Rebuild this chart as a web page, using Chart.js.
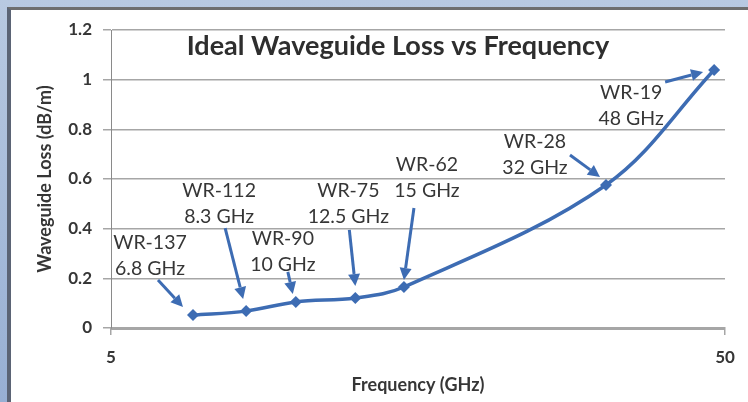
<!DOCTYPE html>
<html><head><meta charset="utf-8">
<script src="https://cdn.jsdelivr.net/npm/chart.js@4"></script>
<style>
html,body{margin:0;padding:0;width:748px;height:402px;overflow:hidden;background:linear-gradient(180deg,#b8c9e1 0%,#97afd3 100%);}
#frame{position:absolute;left:7px;top:7px;width:741px;height:395px;background:#fff;border-left:4px solid #5b6475;border-top:3px solid #6e6e6e;box-sizing:border-box;}
#wrap{position:absolute;left:0;top:0;width:748px;height:402px;}
</style></head><body>
<div id="frame"></div>
<div id="wrap"><canvas id="c" width="748" height="402"></canvas></div>
<script>
// ---- data ----
const frequencies = [6.8, 8.3, 10, 12.5, 15, 32, 48];
const lossValues = [0.052, 0.068, 0.105, 0.121, 0.165, 0.576, 1.039];
const waveguideNames = ['WR-137', 'WR-112', 'WR-90', 'WR-75', 'WR-62', 'WR-28', 'WR-19'];
const frequencyLabels = ['6.8 GHz', '8.3 GHz', '10 GHz', '12.5 GHz', '15 GHz', '32 GHz', '48 GHz'];
const xTickValues = [5, 50];
const yTickValues = [0, 0.2, 0.4, 0.6, 0.8, 1, 1.2];
const chartTitle = 'Ideal Waveguide Loss vs Frequency';
const xAxisTitle = 'Frequency (GHz)';
const yAxisTitle = 'Waveguide Loss (dB/m)';

// ---- styling / layout (offsets relative to each data point, in px) ----
const BLUE = '#3d6cb3';
const TEXT = '#363636';
const FONT = 'Lato';
const annotationLayout = [
  {tx: -43, ty: -66, ax1: -35, ay1: -35, ax2: -10, ay2: -8},
  {tx: -27, ty: -114, ax1: -21, ay1: -83, ax2: -3, ay2: -12},
  {tx: -13, ty: -57, ax1: -8, ay1: -30, ax2: -3, ay2: -8},
  {tx: -7, ty: -101, ax1: -6, ay1: -68, ax2: 0, ay2: -12},
  {tx: 23, ty: -116, ax1: 10, ay1: -79, ax2: 0, ay2: -7},
  {tx: -71, ty: -37, ax1: -36, ay1: -30, ax2: -6, ay2: -8},
  {tx: -83, ty: 29, ax1: -49, ay1: 12, ax2: -11, ay2: 2}
];

function arrow(ctx, x1, y1, x2, y2) {
  const ang = Math.atan2(y2 - y1, x2 - x1);
  const hl = 12, hw = 6;
  const bx = x2 - hl * Math.cos(ang), by = y2 - hl * Math.sin(ang);
  ctx.beginPath();
  ctx.moveTo(x1, y1);
  ctx.lineTo(bx, by);
  ctx.stroke();
  ctx.beginPath();
  ctx.moveTo(x2, y2);
  ctx.lineTo(bx + hw * Math.sin(ang), by - hw * Math.cos(ang));
  ctx.lineTo(bx - hw * Math.sin(ang), by + hw * Math.cos(ang));
  ctx.closePath();
  ctx.fill();
}

const annotationPlugin = {
  id: 'annotations',
  afterDatasetsDraw(chart) {
    const ctx = chart.ctx;
    const meta = chart.getDatasetMeta(0);
    const area = chart.chartArea;
    ctx.save();
    // title inside plot area
    ctx.fillStyle = '#2e2e2e';
    ctx.font = 'bold 27px ' + FONT;
    ctx.textAlign = 'center';
    ctx.textBaseline = 'alphabetic';
    ctx.fillText(chartTitle, (area.left + area.right) / 2 - 20, area.top + 25);
    // labels and arrows
    ctx.font = '19.5px ' + FONT;
    meta.data.forEach((pt, i) => {
      const L = annotationLayout[i];
      ctx.fillStyle = TEXT;
      ctx.fillText(waveguideNames[i], pt.x + L.tx, pt.y + L.ty);
      ctx.fillText(frequencyLabels[i], pt.x + L.tx, pt.y + L.ty + 26);
      ctx.strokeStyle = BLUE;
      ctx.fillStyle = BLUE;
      ctx.lineWidth = 3;
      arrow(ctx, pt.x + L.ax1, pt.y + L.ay1, pt.x + L.ax2, pt.y + L.ay2);
    });
    ctx.restore();
  }
};

new Chart(document.getElementById('c'), {
  type: 'line',
  data: {
    datasets: [{
      data: frequencies.map((f, i) => ({x: f, y: lossValues[i]})),
      borderColor: BLUE,
      backgroundColor: BLUE,
      borderWidth: 3.5,
      pointStyle: 'rectRot',
      pointRadius: 6,
      pointBorderWidth: 0,
      tension: 0.35,
      fill: false
    }]
  },
  options: {
    responsive: false,
    animation: false,
    devicePixelRatio: 1,
    layout: {padding: {top: 30, right: 23, bottom: 0, left: 0}},
    plugins: {legend: {display: false}, tooltip: {enabled: false}, title: {display: false}},
    scales: {
      x: {
        type: 'logarithmic',
        min: 5, max: 50,
        afterBuildTicks: s => { s.ticks = xTickValues.map(v => ({value: v})); },
        afterFit: s => { s.height = 74; },
        ticks: {callback: v => String(v), color: TEXT, font: {family: FONT, size: 17, weight: 'bold'}, padding: 12, maxRotation: 0, autoSkip: false},
        grid: {drawOnChartArea: false, drawTicks: true, tickLength: 7, color: '#a6a6a6', lineWidth: 1.5},
        border: {display: true, color: '#a6a6a6', width: 3},
        title: {display: true, text: xAxisTitle, color: TEXT, font: {family: FONT, size: 18, weight: 'bold'}, padding: {top: 0, bottom: 6}}
      },
      y: {
        type: 'linear',
        min: 0, max: 1.2,
        afterBuildTicks: s => { s.ticks = yTickValues.map(v => ({value: v})); },
        afterFit: s => { s.width = 111; },
        ticks: {callback: v => String(v), color: TEXT, font: {family: FONT, size: 17, weight: 'bold'}, padding: 11},
        grid: {color: '#a6a6a6', lineWidth: 1.5, tickLength: 8},
        border: {display: true, color: '#8a8a8a', width: 1},
        title: {display: true, text: yAxisTitle, color: TEXT, font: {family: FONT, size: 18, weight: 'bold'}, padding: {top: 34, bottom: 0}}
      }
    }
  },
  plugins: [annotationPlugin]
});
</script>
</body></html>
